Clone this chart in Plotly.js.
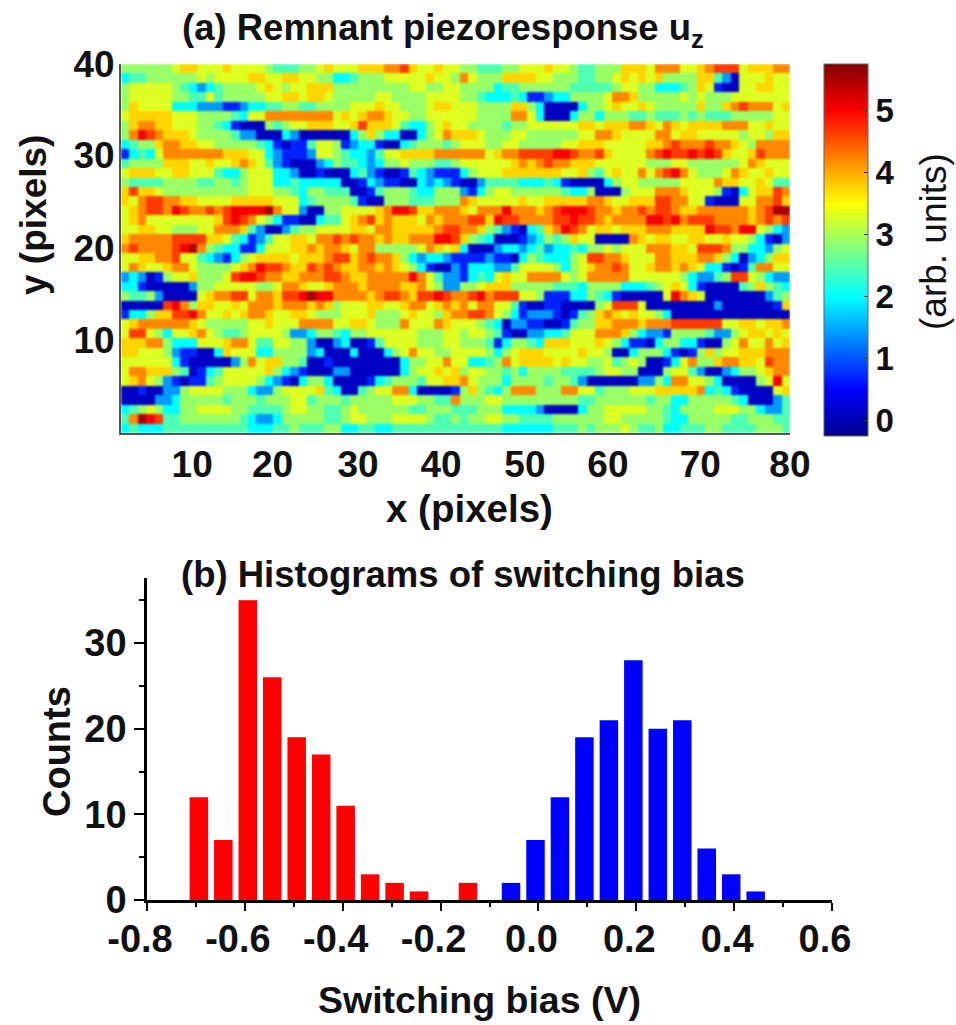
<!DOCTYPE html>
<html><head><meta charset="utf-8">
<script src="https://cdn.plot.ly/plotly-3.0.1.min.js"></script>
<style>html,body{margin:0;padding:0;background:#fff}#c{width:956px;height:1025px}
#c svg image{filter:blur(1.2px)}</style>
</head><body><div id="c"></div>
<script>
// Piezoresponse levels: one character per cell, top row first
const levelValues = {'0':0.1,'1':0.7,'2':1.4,'3':2.0,'4':2.45,'5':2.9,'6':3.3,'7':3.75,'8':4.2,'9':4.65,'a':5.05,'b':5.5};
const uzRows = [
"5555556776 6676666544 4556766677 7889766766 5544455666 7665445557 7768886678 999677788",
"3445555556 5666677667 7665533455 5666667665 8655577776 6555445567 6767555577 420666766",
"5666665432 3455556765 6677755555 5555665566 5555344555 5554444456 6553334576 100667766",
"5666665544 6455555667 7677655555 6655556666 5543334311 2335555688 7555556565 556666666",
"5766663332 2211233445 5445555666 7665556776 6655557753 0000355676 6765555575 578988867",
"6777776665 5554366888 8888867678 8766556666 6655558863 0003553555 4454445454 445555566",
"5788776665 5431000545 6677766797 7764335676 6555545566 6666776777 8876876777 788866766",
"58a9877765 5554220003 2000000357 5330035687 7765556655 5555668876 6668867766 666566577",
"3455788776 6555554310 1146651233 1003455545 6665566555 5566777666 6677898889 887658888",
"1343688888 8877766321 1126654332 4667777888 8886788999 9aa9889766 6689a99a9a 976679888",
"4555577766 7667876421 0002354432 3556555445 6666667878 9887776666 6655566555 555687666",
"6777667766 6433566633 2001000342 1001432111 3566677777 7766754676 68689a8655 568766766",
"5444455554 4554566633 4333330013 2110032321 0024444333 4310000356 6555556666 877667644",
"7977655555 5555566655 4355444001 4555433555 2135665555 5543350005 6668887666 510367798",
"7689988776 6667777766 6345555410 0555444555 8766666766 7777788766 7779988661 000668897",
"678998a988 989aaaab86 6200556666 78aa977888 76888a8887 89aaa98878 8989987788 8888789bb",
"6786666666 679a986531 1003446789 7877768788 8997a99888 899a998788 88aa9a8999 888878989",
"6677665556 6888742002 4556666776 8877777899 8875421034 78a9867767 778887777a 998aa6532",
"7888889999 7764312466 7768898988 7877888aa9 7543000123 5457660000 8767766776 676653102",
"8988889ab8 5433113666 7787887688 5555568767 3000233234 2334355656 6688877699 985533256",
"6677889664 3213567777 6777899789 8875323321 1112110354 3335699887 6668877788 753023577",
"6876678865 555678a998 7798987788 7876531002 1333224666 6535678898 6678878763 310148866",
"2320156675 5569aa9887 7888998778 8888a86422 1343676688 8865688888 6666665322 459965322",
"3310000025 5666665568 8766788878 8887786522 5567775555 5444355553 3345676310 000457543",
"5445200006 7889968879 9abaa88887 8998799a98 89a8999665 1113354310 00006a8760 000000245",
"000009a857 7667688878 8878756667 7667886787 8688664100 1100005699 9600000000 200000017",
"13357799a8 6676788766 7765556667 5556766578 8998653122 2101457876 7665300000 000000000",
"6788888876 5555566766 6888866776 5558666876 6654302211 0014557788 8788899999 966776778",
"6996536678 6544566665 2235543556 6666655566 5665410022 3346668887 5322155554 225677676",
"7778853336 6678864466 5520023001 4666655566 5554135543 7776667653 1103553310 056866867",
"7766652110 0376663355 5523000300 0356866556 6665356777 6666766500 3555310157 566777888",
"6666663100 0002586775 5400100000 0003556686 6334586777 7676655645 6500136855 788776988",
"6887775401 3466666753 2100022000 0003566767 5665545355 5544445665 5000566420 023556788",
"6786521011 4566665321 0355300001 3455546677 8655535555 4554200000 0225388665 3000056a6",
"0010022566 6655532256 6667430045 6688300001 5754358885 5588664555 6667777783 431000067",
"0000223555 5545554555 6645554555 5566655448 5556655555 5555445555 5545533555 554300024",
"3456533556 6665544445 6655445655 5555445554 4455533332 0000355666 6655435555 666553224",
"48ba944555 5555432235 5555445665 5566665445 4556655444 4555555665 5555433555 554455544",
"3433344444 4444433344 5444553344 3344444444 4444433333 3444545556 5445334445 544445554"
];
const heatXTickVals = [9.4,18.9,29,38.8,48.7,58.5,69.4,79.99];
const heatXTickText = ['10','20','30','40','50','60','70','80'];
const heatYTickVals = [10.8,20.56,30.4,39.99];
const heatYTickText = ['10','20','30','40'];
const colorbarTicks = [0,1,2,3,4,5];

const redBias = [-0.694,-0.644,-0.594,-0.544,-0.494,-0.444,-0.394,-0.344,-0.294,-0.244,-0.144];
const redCounts = [12,7,35,26,19,17,11,3,2,1,2];
const blueBias = [-0.056,-0.006,0.044,0.094,0.144,0.194,0.244,0.294,0.344,0.394,0.444];
const blueCounts = [2,7,12,19,21,28,20,21,6,3,1];
const histXTicks = [-0.8,-0.6,-0.4,-0.2,0,0.2,0.4,0.6];
const histXText = ['-0.8','-0.6','-0.4','-0.2','0.0','0.2','0.4','0.6'];
const histYTicks = [0,10,20,30];

const z = uzRows.map(r => r.replace(/ /g,'').split('').map(c => levelValues[c])).reverse();
const xEdges = Array.from({length:80},(_,i)=>i+1);
const yEdges = Array.from({length:40},(_,i)=>i+1);
const jet = [[0,'rgb(0,0,143)'],[0.125,'rgb(0,0,255)'],[0.375,'rgb(0,255,255)'],[0.625,'rgb(255,255,0)'],[0.875,'rgb(255,0,0)'],[1,'rgb(128,0,0)']];

const W=956,H=1025, FF='"Liberation Sans", Arial, sans-serif';
const px=(a,b)=>[a/W,b/W], py=(top,bot)=>[(H-bot)/H,(H-top)/H];
const boldTick = {family:FF,size:37,color:'#111',weight:'bold'};

const traces = [
 {type:'heatmap',x:xEdges,y:yEdges,z:z,colorscale:jet,zmin:-0.25,zmax:5.75,xaxis:'x',yaxis:'y',hoverinfo:'skip',
  colorbar:{x:824/W,xanchor:'left',xpad:0,ypad:0,y:(H-250)/H,yanchor:'middle',len:372/H,lenmode:'fraction',thickness:44,thicknessmode:'pixels',
    tickmode:'array',tickvals:colorbarTicks,ticktext:colorbarTicks.map(String),ticks:'inside',ticklen:4,tickcolor:'#333',
    tickfont:{family:FF,size:33,color:'#111',weight:'bold'},outlinecolor:'#666',outlinewidth:1}},
 {type:'bar',x:redBias,y:redCounts,width:0.0378,marker:{color:'#ff0000',line:{width:0}},xaxis:'x2',yaxis:'y2',showlegend:false},
 {type:'bar',x:blueBias,y:blueCounts,width:0.0378,marker:{color:'#0000ff',line:{width:0}},xaxis:'x2',yaxis:'y2',showlegend:false}
];

const ann=(text,x,y,size,extra,weight)=>Object.assign({text:text,x:x/W,y:(H-y)/H,xref:'paper',yref:'paper',showarrow:false,xanchor:'center',yanchor:'middle',
   font:{family:FF,size:size,color:'#111',weight:weight||'bold'}},extra||{});

const layout = {
 width:W,height:H,margin:{l:0,r:0,t:0,b:0},paper_bgcolor:'#fff',plot_bgcolor:'#fff',showlegend:false,barmode:'overlay',
 xaxis:{domain:px(121,790),range:[1,80],tickmode:'array',tickvals:heatXTickVals,ticktext:heatXTickText,ticks:'',ticklabelstandoff:-2,tickfont:boldTick,
   showgrid:false,zeroline:false,showline:true,linecolor:'#555',linewidth:2,anchor:'y',tickangle:0},
 yaxis:{domain:py(64,433),range:[1,40],tickmode:'array',tickvals:heatYTickVals,ticktext:heatYTickText,ticks:'',ticklabelstandoff:-3,tickfont:boldTick,
   showgrid:false,zeroline:false,showline:true,linecolor:'#555',linewidth:2,anchor:'x'},
 xaxis2:{domain:px(147,832),range:[-0.8,0.6],tickmode:'array',tickvals:histXTicks,ticktext:histXText,ticks:'outside',ticklen:8,tickwidth:2,tickcolor:'#000',
   minor:{tickmode:'array',tickvals:[-0.7,-0.5,-0.3,-0.1,0.1,0.3,0.5],ticks:'outside',ticklen:4,tickwidth:2,tickcolor:'#000'},
   ticklabelstandoff:-4,ticklabelshift:-7,tickfont:{family:FF,size:38,color:'#111',weight:'bold'},showgrid:false,zeroline:false,showline:true,linecolor:'#000',linewidth:2.5,anchor:'y2'},
 yaxis2:{domain:py(578,900),range:[0,37.6],tickmode:'array',tickvals:histYTicks,ticktext:histYTicks.map(String),ticks:'outside',ticklen:10,tickwidth:2,tickcolor:'#000',
   minor:{tickmode:'array',tickvals:[5,15,25,35],ticks:'outside',ticklen:5,tickwidth:2,tickcolor:'#000'},
   ticklabelstandoff:0,tickfont:{family:FF,size:38,color:'#111',weight:'bold'},showgrid:false,zeroline:false,showline:true,linecolor:'#000',linewidth:2.5,anchor:'x2'},
 annotations:[
  ann('(a) Remnant piezoresponse u<sub>z</sub>',443,30,36.5),
  ann('x (pixels)',469,508,38.5),
  ann('y (pixels)',34,215,37,{textangle:-90}),
  ann('(arb. units)',933,242,37,{textangle:-90},'normal'),
  ann('(b) Histograms of switching bias',463,574,36.5),
  ann('Counts',57,752,38,{textangle:-90}),
  ann('Switching bias (V)',479,1000,37.5)
 ]
};
Plotly.newPlot('c',traces,layout,{displayModeBar:false,responsive:false});
</script></body></html>
